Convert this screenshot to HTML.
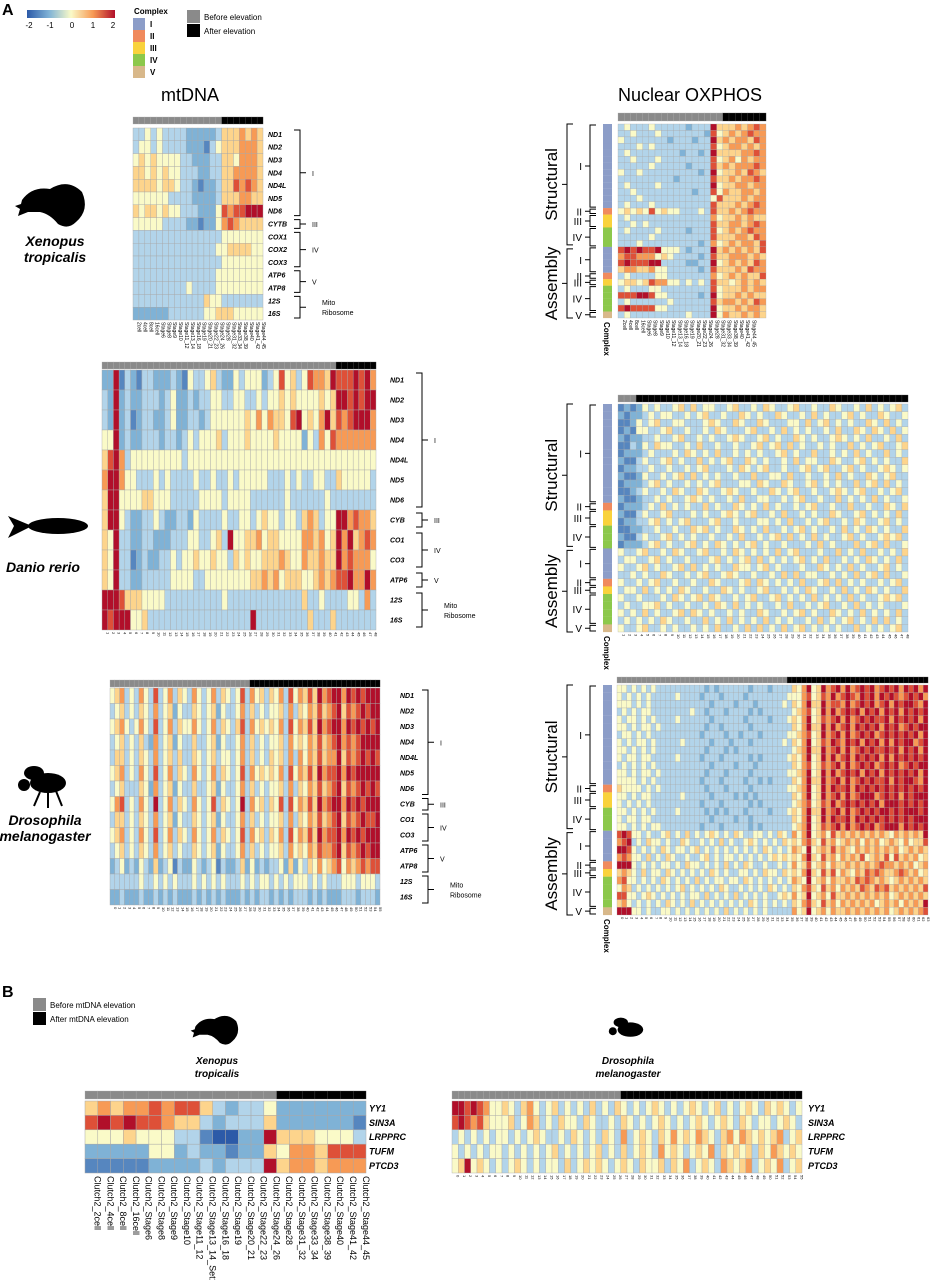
<!DOCTYPE html>
<html><head><meta charset="utf-8"><style>
html,body{margin:0;padding:0;background:#fff;}
svg{display:block;font-family:"Liberation Sans",Arial,sans-serif;}
</style></head><body>
<svg id="fig" width="931" height="1280" viewBox="0 0 931 1280" xmlns="http://www.w3.org/2000/svg">
<text x="2" y="15" font-size="16" font-weight="bold">A</text>
<text x="2" y="997" font-size="16" font-weight="bold">B</text>
<defs><linearGradient id="cb" x1="0" x2="1" y1="0" y2="0">
<stop offset="0" stop-color="#2c5aa8"/><stop offset="0.25" stop-color="#7fb2d6"/><stop offset="0.5" stop-color="#fafac8"/><stop offset="0.75" stop-color="#f79a55"/><stop offset="1" stop-color="#b10f2a"/></linearGradient></defs>
<rect x="27" y="10" width="88" height="8" fill="url(#cb)"/>
<g font-size="8" text-anchor="middle">
<text x="29" y="28">-2</text><text x="50" y="28">-1</text><text x="72" y="28">0</text><text x="93" y="28">1</text><text x="113" y="28">2</text></g>
<text x="134" y="14" font-size="8" font-weight="bold">Complex</text>
<g id="cxleg"></g>
<g>
<rect x="187" y="10" width="13" height="13" fill="#8a8a8a"/><rect x="187" y="24" width="13" height="13" fill="#000"/>
<text x="204" y="20" font-size="8">Before elevation</text><text x="204" y="34" font-size="8">After elevation</text></g>
<text x="190" y="101" font-size="18" text-anchor="middle">mtDNA</text>
<text x="690" y="101" font-size="18" text-anchor="middle">Nuclear OXPHOS</text>

<g fill="#000">
<path d="M22 200 Q32 186 50 189 Q68 178 82 192 Q90 210 76 222 Q68 230 58 224 Q50 214 40 212 L28 212 L18 216 L20 209 L15 206 L21 204 Z"/></g>
<text x="55" y="246" font-size="14" font-weight="bold" font-style="italic" text-anchor="middle"><tspan x="55">Xenopus</tspan><tspan x="55" dy="16">tropicalis</tspan></text>
<g fill="#000">
<ellipse cx="58" cy="526" rx="30" ry="8"/><path d="M32 526 L8 516 L14 526 L8 538 Z"/></g>
<text x="43" y="572" font-size="14" font-weight="bold" font-style="italic" text-anchor="middle">Danio rerio</text>
<g fill="#000">
<ellipse cx="48" cy="783" rx="18" ry="10"/><ellipse cx="34" cy="773" rx="10" ry="7"/><circle cx="24" cy="785" r="6"/>
<path d="M40 792 L34 806 M48 793 L48 808 M56 791 L62 806" stroke="#000" stroke-width="2"/></g>
<text x="45" y="825" font-size="14" font-weight="bold" font-style="italic" text-anchor="middle"><tspan x="45">Drosophila</tspan><tspan x="45" dy="16">melanogaster</tspan></text>

<g>
<rect x="33" y="998" width="13" height="13" fill="#8a8a8a"/><rect x="33" y="1012" width="13" height="13" fill="#000"/>
<text x="50" y="1008" font-size="8">Before mtDNA elevation</text><text x="50" y="1022" font-size="8">After mtDNA elevation</text></g>
<g fill="#000" transform="translate(194,1013) scale(0.68)">
<path d="M2 20 Q12 6 30 9 Q48 -2 62 12 Q70 30 56 42 Q48 50 38 44 Q30 34 20 32 L8 32 L-2 36 L0 29 L-5 26 L1 24 Z"/></g>
<text x="217" y="1064" font-size="10" font-weight="bold" font-style="italic" text-anchor="middle"><tspan x="217">Xenopus</tspan><tspan x="217" dy="13">tropicalis</tspan></text>
<g fill="#000" transform="translate(608,1012) scale(0.8)">
<ellipse cx="28" cy="22" rx="16" ry="9"/><ellipse cx="16" cy="13" rx="9" ry="6"/><circle cx="6" cy="24" r="5"/></g>
<text x="628" y="1064" font-size="10" font-weight="bold" font-style="italic" text-anchor="middle"><tspan x="628">Drosophila</tspan><tspan x="628" dy="13">melanogaster</tspan></text>

<g id="plots"></g>
</svg>
<script>
// ---------- data ----------
const cxNames = ['I','II','III','IV','V'];
const xMtGenes = ['ND1','ND2','ND3','ND4','ND4L','ND5','ND6','CYTB','COX1','COX2','COX3','ATP6','ATP8','12S','16S'];
const xMtStages = ['2cell','4cell','8cell','16cell','Stage6','Stage8','Stage9','Stage10','Stage11_12','Stage13_14','Stage16_18','Stage19','Stage20_21','Stage22_23','Stage24_26','Stage28','Stage31_32','Stage33_34','Stage38_39','Stage40','Stage41_42','Stage44_45'];
const xMtValues = [
"3343433332222235556565","3443433332221345556665","4545444433222335546665","5545454433322335566665",
"5555455433212235576765","4444443333222235556655","5455454433322247677888","4444433332212246765555",
"3333333333333334444444","3333333333333344555544","3333333333333334444444","3333333333333344444444",
"3333333334333344444444","3333333333335443333333","2222223333334455544444"];
const xMtGray = 15;
const dMtGenes = ['ND1','ND2','ND3','ND4','ND4L','ND5','ND6','CYB','CO1','CO3','ATP6','12S','16S'];
const dMtValues = [
"22813213 32223214 33453224 34442347 45347665 87778786","32823223 33234223 23344334 43343445 45444454 58878788",
"32823123 32234223 32344444 45464655 47845468 57678886","44823223 33233234 34445344 45444454 44424364 76666666",
"57863444 44444434 44444444 44444444 44444444 44444444","68864433 34343333 43343343 44444333 43433443 35444443",
"58844445 54443333 34444344 44333333 43333334 33333333","58843223 34322332 43333433 44345443 44356534 48867665",
"54833223 32223334 43345384 45564554 44466564 58685676","54833123 22334344 54454435 45445556 54465565 58676664",
"54833223 33334444 33444444 44556564 55544565 67786686","88875554 44433333 33333433 33333333 33353343 33344363",
"87888445 33333333 33333333 33833333 33335333 53333333"];
const dMtGray = 41;
const fMtGenes = ['ND1','ND2','ND3','ND4','ND4L','ND5','ND6','CYB','CO1','CO3','ATP6','ATP8','12S','16S'];
const fMtValues = [
"45634364 37346354 36434635 43473645 35463746 57586788 68787888","34534354 36345243 35434524 33463534 34453635 46575678 57678788",
"45643464 37346354 46434635 43573645 45463746 57586788 68787878","34534353 26345243 35334524 33463534 34453645 46575678 67678888",
"35534354 36345353 35434534 43463534 35453636 46575668 57678787","45634364 37346354 36434635 43473645 45463746 57586778 68788888",
"34533354 26345243 35334524 33463534 34453635 46575678 57678787","46734364 38346354 36434735 43483645 35473746 57586788 68787888",
"35534354 36345243 35434524 33463534 34453635 46575678 57678778","45634364 37346354 36434635 43473645 35463746 57586778 68787888",
"34534354 36345343 35434524 33463534 34453645 46576678 57678788","23423243 25234132 24323413 22352423 23342524 35464567 46567677",
"33333343 34343433 34343434 33343434 43434344 43434333 44434443","22322232 23232322 23232323 22232323 32323233 32323222 33323332"];
const fMtGray = 29;
const nucComplex = [0,0,0,0,0,0,0,0,0,0,0,0,0,1,2,2,3,3,3, 0,0,0,0,1,2,3,3,3,3,4];
const xNucValues = [
"34333433 33323338 55565676","33433343 33333327 45656766","43333333 23332338 56566576","33343433 33333337 45665656",
"34333333 33233238 55556676","33433343 33333337 45646566","33333433 33323337 56566676","43343333 33333238 45565765",
"33333333 32333337 55656676","34333343 33333338 45566566","33433333 33332337 46556656","33343333 33333334 75556566",
"34333433 33333337 55565676","45454745 44333437 55656766","34333333 33333336 45565655","33434333 33333337 55665676",
"34333343 33323337 45656766","33333433 33333337 55566576","33343333 33333236 45656657",
"78787784 44323338 56565657","67766645 43333237 55666565","78777883 33322338 45656576","56655644 33333237 55565766",
"34333344 33333336 45656557","45545766 44343437 55456565","34333443 33333337 45556566","77788744 33333238 45565655",
"34333333 43333337 56656576","78777744 33333338 45565665","34333333 33343338 46556565"];
const xNucGray = 17;
const dNucValues = [
"12124343 34535344 33453343 54334533 43354334 35343453","21223434 43343453 34335434 33543343 53433453 43354334",
"11243453 34433345 43354335 43334435 34534343 35435343","12144334 53343343 54333453 34353434 33435335 43543534",
"21223343 34533434 33454334 53433543 43345434 35334353","11324354 43343533 43343345 34535343 34343353 43453345",
"12223433 34354343 53343434 33453433 53343435 34335343","21134334 53433534 34533543 43343534 43354334 53434335",
"12233433 43343453 33435434 53343345 34533453 43345434","21124334 34535343 43343353 34435334 33435343 35434533",
"12223453 43343434 53334435 43354334 53434335 34535343","11234334 35433543 34543343 35434533 43345434 53343453",
"21123343 43345434 33435334 43343453 34335343 43534334","12223435 34343353 43354343 53433434 53343353 34335435",
"21134334 53334343 34543453 34353343 43354334 53434353","12233453 43453334 53343334 43435334 34533435 43345343",
"11223343 34335453 43354343 53343453 43343534 35434335","21134334 53434334 33435334 34535343 53433453 43345453",
"12223453 43345343 54343453 43343334 35343335 34535334",
"43345334 35433453 34354343 43534533 34335343 53343435","34433453 43343334 53434535 34343453 43533434 35434353",
"43345343 34535343 43354434 53433343 35434353 43345343","33434335 43343453 34543343 34353534 43343435 34535334",
"43343453 34334335 43334535 43434353 34535343 43343453","34435343 43543343 35434334 53343435 43343534 35434335",
"43343334 35434535 43343453 34534343 53434353 43345453","34334453 43343343 54353434 33435334 34533435 34343334",
"43435343 34535434 33434335 43343453 43354343 53434353","34343435 43343353 43534343 53434334 35343453 43535343",
"43345334 34334343 53343535 34353453 43434335 34343453"];
const dNucGray = 3;
const fNucValues = [
"44343434 33333333 33232333 33323332 33335468 45867868 67878678 78687868","43434343 33334333 32333233 33233333 33344467 45768678 76878687 87678786",
"44434343 33333333 33323333 23332333 33435468 55867768 67878678 68788768","34343443 33333334 33233323 33323233 33334567 45868678 78687868 78687878",
"43443434 33334333 33323333 33233332 33345468 45767868 67878778 68787868","44343443 43333333 33233233 33323333 33335468 55868678 68787868 78678788",
"34434343 33333333 32333323 32333233 33344567 45867868 67878678 78787868","43434434 33333433 33323332 33323333 33435468 45768768 78687868 68788678",
"44343434 33333333 33233323 23333333 33334568 55867868 67878778 78687868","43443443 33334333 32333233 33323233 33345468 45868678 68787868 68787878",
"34343434 33333333 33323333 23332333 33335467 45767868 67878678 78678788","44343443 43333333 33233323 33323333 33344568 45868678 78687868 78787868",
"44443434 33333333 32333233 33233232 33335468 55867868 67878778 68788768","54444343 43333333 33233323 33323333 33344568 45868778 68787878 78787878",
"44343443 33333433 33323333 23232333 33335468 45867868 67888678 78687888","43434343 33333333 32333233 33323233 33334567 45768678 78787868 88787878",
"44343434 33334333 33232323 33233332 33345468 55867868 67878788 78788878","43443443 33333333 33323333 23323333 33335468 45868778 68787878 78787888",
"44343434 43333333 32333233 33323233 33334568 45767868 67878678 88687878",
"78744343 34534353 43454343 54334434 35436468 45647565 65656565 46565658","67834354 43433543 34343534 33454343 43545467 54756456 56465645 65464557",
"88743434 35434434 53434343 43434354 34346548 45657565 46565656 56456565","67644353 43543343 34534344 34343434 54545468 54756465 65745657 47565645",
"88843434 34434354 43434353 43543343 34346457 45646556 56565676 65656456","56543534 43543434 34354343 34434354 43545468 54757465 46576765 56765645",
"67443434 35434343 53434434 43543434 34346548 45646556 57676565 45656565","46534343 43434534 34343543 34343435 43435467 54756465 65765767 56565657",
"77443454 34343434 43534343 53434343 34546458 45647556 56565656 45656565","56434343 43543435 34343434 34354343 43435467 54756465 65656456 56465658",
"88844343 34434343 43434353 43434343 33336458 45646556 56565656 45656567"];
const fNucGray = 35;
const bGenes = ['YY1','SIN3A','LRPPRC','TUFM','PTCD3'];
const bXStages = ['Clutch2_2cell','Clutch2_4cell','Clutch2_8cell','Clutch2_16cell','Clutch2_Stage6','Clutch2_Stage8','Clutch2_Stage9','Clutch2_Stage10','Clutch2_Stage11_12','Clutch2_Stage13_14_Set1','Clutch2_Stage16_18','Clutch2_Stage19','Clutch2_Stage20_21','Clutch2_Stage22_23','Clutch2_Stage24_26','Clutch2_Stage28','Clutch2_Stage31_32','Clutch2_Stage33_34','Clutch2_Stage38_39','Clutch2_Stage40','Clutch2_Stage41_42','Clutch2_Stage44_45'];
const bXValues = ["565667677532334 2222222","787877655323335 2222221","444544433100228 5554443","222224423221225 4665777","111112222323338 5665666"];
const bXGray = 15;
const bFValues = [
"88787644 54356434 53434353 43543434 54343454 34534345 43545434","78767544 45346534 35443543 34354343 45434345 43454354 34434543",
"34343434 43434543 34354343 54363454 35464546 54356465 45456345","43434344 34343434 53434345 34353454 36454345 46354545 35465454",
"45845434 34543434 43534545 43454354 45354634 54365456 34546345"];
const bFGray = 27;

// ---------- helpers ----------
const NS='http://www.w3.org/2000/svg';
const plots=document.getElementById('plots');
const stops=[[-2,[44,90,168]],[-1,[127,178,214]],[-0.5,[178,212,234]],[0,[250,250,200]],[0.5,[253,212,140]],[1,[247,154,85]],[1.5,[222,80,56]],[2,[177,15,42]]];
function color(v){v=Math.max(-2,Math.min(2,v));for(let i=0;i<stops.length-1;i++){const a=stops[i],b=stops[i+1];if(v<=b[0]){const t=(v-a[0])/(b[0]-a[0]);const c=a[1].map((x,k)=>Math.round(x+(b[1][k]-x)*t));return 'rgb('+c.join(',')+')';}}return 'rgb(177,15,42)';}
const cxColors=['#8c9dc8','#f08a5d','#f9d23c','#8cc84b','#d8b88a'];
function mk(tag,attrs,parent){const e=document.createElementNS(NS,tag);for(const k in attrs)e.setAttribute(k,attrs[k]);(parent||plots).appendChild(e);return e;}
function clean(rows){return rows.map(r=>r.replace(/\s/g,''));}
function xScale(x0,w,n){return i=>x0+i*w/n;}
function yScale(y0,h,n){return i=>y0+i*h/n;}
function heatmap(name,x0,y0,w,h,rowsRaw,gray,barY,barH,sw){
  const rows=clean(rowsRaw),nr=rows.length,nc=rows[0].length;
  const xs=xScale(x0,w,nc),ys=yScale(y0,h,nr);
  const g=mk('g',{});
  
  
  const bar=mk('g',{},g);
  
  
  for(let c=0;c<nc;c++){
    mk('rect',{x:xs(c),y:barY,width:w/nc+0.05,height:barH,fill:c<gray?'#8a8a8a':'#000',stroke:c<gray?'#b0b0b0':'#555','stroke-width':0.3},bar);
  }
  for(let r=0;r<nr;r++)for(let c=0;c<nc;c++){
    const v=(parseInt(rows[r][c])-4)/2;
    const cell=mk('rect',{x:xs(c),y:ys(r),width:w/nc,height:h/nr,fill:color(v),stroke:'#a8a8a8','stroke-width':sw},g);
    
    
  }
  return {xs,ys,nc,nr};
}
function rowLabels(labels,x,ys,fs,name){
  const g=mk('g',{'font-size':fs,'font-style':'italic','font-weight':'bold'});
  
  
  const hh=ys(1)-ys(0);
  labels.forEach((l,i)=>{const t=mk('text',{x:x,y:ys(i)+hh/2+fs*0.35},g);t.textContent=l;});
}
function colLabels(labels,xs,y,fs,name,bold){
  const g=mk('g',{'font-size':fs});
  if(bold)g.setAttribute('font-weight','bold');
  
  
  const cw=xs(1)-xs(0);
  labels.forEach((l,i)=>{const cx=xs(i)+cw/2+fs*0.35;const t=mk('text',{x:cx,y:y,transform:'rotate(90 '+cx+' '+y+')'},g);t.textContent=l;});
}
function bracketR(x,y1,y2,label,name,fs){
  const g=mk('g',{stroke:'#000','stroke-width':1,fill:'none'});
  
  
  const m=(y1+y2)/2;
  mk('path',{d:`M${x-6} ${y1} H${x} V${y2} H${x-6} M${x} ${m} H${x+6}`},g);
  const lines=label.split('|');
  lines.forEach((l,i)=>{const t=mk('text',{x:x+(lines.length>1?22:12),y:m+3+(i-(lines.length-1)/2)*10,'font-size':fs,stroke:'none',fill:'#000'},g);t.textContent=l;});
}
function bracketL(x,y1,y2,label,name,fs,rot){
  const g=mk('g',{stroke:'#000','stroke-width':1,fill:'none'});
  
  
  const m=(y1+y2)/2;
  mk('path',{d:`M${x+6} ${y1} H${x} V${y2} H${x+6} M${x} ${m} H${x-5}`},g);
  let t;
  if(rot){t=mk('text',{x:x-10,y:m,'font-size':fs,stroke:'none',fill:'#000','text-anchor':'middle',transform:`rotate(-90 ${x-10} ${m})`},g);}
  else{t=mk('text',{x:x-8,y:m+4,'font-size':fs,stroke:'none',fill:'#000','text-anchor':'end'},g);}
  t.textContent=label;
}
function complexBar(x,w,ys,nr,name){
  const g=mk('g',{});
  
  
  for(let r=0;r<nr;r++){mk('rect',{x:x,y:ys(r),width:w,height:ys(1)-ys(0)+0.1,fill:cxColors[nucComplex[r]]},g);}
  const c=mk('text',{x:x+1,y:ys(nr)+4,'font-size':8,'font-weight':'bold',transform:`rotate(90 ${x+1} ${ys(nr)+4})`},g);
  c.textContent='Complex';
}
function nucBrackets(pre,ys){
  const groups=[];let s=0;
  for(let r=1;r<=nucComplex.length;r++){
    const newSec=(r===19);
    if(r===nucComplex.length||nucComplex[r]!==nucComplex[s]||newSec){groups.push([s,r-1,nucComplex[s]]);s=r;}
  }
  groups.forEach((gr,i)=>bracketL(590,ys(gr[0])+1,ys(gr[1]+1)-1,cxNames[gr[2]],pre+'-complex-bracket-'+i,10,false));
  bracketL(567,ys(0),ys(19)-2,'Structural',pre+'-structural-brace',17,true);
  bracketL(567,ys(19)+2,ys(30),'Assembly',pre+'-assembly-brace',17,true);
}
(function(){const g=document.getElementById('cxleg');cxNames.forEach((n,i)=>{mk('rect',{x:133,y:18+i*12,width:12,height:12,fill:cxColors[i]},g);const t=mk('text',{x:150,y:27+i*12,'font-size':8,'font-weight':'bold'},g);t.textContent=n;});})();

// ---------- Xenopus mtDNA ----------
let H=heatmap('xenopus-mtdna-heatmap',133,128,130,192,xMtValues,xMtGray,117,7,0.4);
rowLabels(xMtGenes,268,H.ys,7,'xenopus-mtdna-genes');
colLabels(xMtStages,H.xs,322,5,'xenopus-mtdna-stages',false);
bracketR(300,H.ys(0)+2,H.ys(7)-2,'I','x-br-I',7);bracketR(300,H.ys(7)+2,H.ys(8)-2,'III','x-br-III',7);
bracketR(300,H.ys(8)+2,H.ys(11)-2,'IV','x-br-IV',7);bracketR(300,H.ys(11)+2,H.ys(13)-2,'V','x-br-V',7);
bracketR(300,H.ys(13)+2,H.ys(15)-2,'Mito|Ribosome','x-br-mito',7);
// ---------- Danio mtDNA ----------
H=heatmap('danio-mtdna-heatmap',102,370,274,260,dMtValues,dMtGray,362,7,0.4);
rowLabels(dMtGenes,390,H.ys,7,'danio-mtdna-genes');
const dMtStages=[];for(let i=0;i<H.nc;i++)dMtStages.push(String(i+1));
colLabels(dMtStages,H.xs,632,4,'danio-mtdna-stages',false);
bracketR(422,H.ys(0)+3,H.ys(7)-3,'I','d-br-I',7);bracketR(422,H.ys(7)+3,H.ys(8)-3,'III','d-br-III',7);
bracketR(422,H.ys(8)+3,H.ys(10)-3,'IV','d-br-IV',7);bracketR(422,H.ys(10)+3,H.ys(11)-3,'V','d-br-V',7);
bracketR(422,H.ys(11)+3,H.ys(13)-3,'Mito|Ribosome','d-br-mito',7);
// ---------- Drosophila mtDNA ----------
H=heatmap('drosophila-mtdna-heatmap',110,688,270,217,fMtValues,fMtGray,680,7,0.4);
rowLabels(fMtGenes,400,H.ys,7,'drosophila-mtdna-genes');
const fMtStages=[];for(let i=0;i<H.nc;i++)fMtStages.push(String(i));
colLabels(fMtStages,H.xs,907,4,'drosophila-mtdna-stages',false);
bracketR(428,H.ys(0)+2,H.ys(7)-2,'I','f-br-I',7);bracketR(428,H.ys(7)+2,H.ys(8)-2,'III','f-br-III',7);
bracketR(428,H.ys(8)+2,H.ys(10)-2,'IV','f-br-IV',7);bracketR(428,H.ys(10)+2,H.ys(12)-2,'V','f-br-V',7);
bracketR(428,H.ys(12)+2,H.ys(14)-2,'Mito|Ribosome','f-br-mito',7);
// ---------- Nuclear ----------
H=heatmap('xenopus-nuclear-heatmap',618,124,148,194,xNucValues,xNucGray,113,8,0.3);
complexBar(603,9,H.ys,H.nr,'xenopus-complex-bar');nucBrackets('xn',H.ys);
colLabels(xMtStages.slice(0,H.nc),H.xs,320,5,'xenopus-nuclear-stages',false);
H=heatmap('danio-nuclear-heatmap',618,404,290,228,dNucValues,dNucGray,395,7,0.3);
complexBar(603,9,H.ys,H.nr,'danio-complex-bar');nucBrackets('dn',H.ys);
const dNucStages=[];for(let i=0;i<H.nc;i++)dNucStages.push(String(i+1));
colLabels(dNucStages,H.xs,634,4,'danio-nuclear-stages',false);
H=heatmap('drosophila-nuclear-heatmap',617,685,311,230,fNucValues,fNucGray,677,6,0.3);
complexBar(603,9,H.ys,H.nr,'drosophila-complex-bar');nucBrackets('fn',H.ys);
const fNucStages=[];for(let i=0;i<H.nc;i++)fNucStages.push(String(i));
colLabels(fNucStages,H.xs,917,4,'drosophila-nuclear-stages',false);
// ---------- Panel B ----------
H=heatmap('b-xenopus-heatmap',85,1101,281,72,bXValues,bXGray,1091,8,0.5);
rowLabels(bGenes,369,H.ys,9,'b-xenopus-genes');
colLabels(bXStages,H.xs,1176,9,'b-xenopus-stages',false);
H=heatmap('b-drosophila-heatmap',452,1101,350,72,bFValues,bFGray,1091,8,0.4);
rowLabels(bGenes,808,H.ys,9,'b-drosophila-genes');
const bFStages=[];for(let i=0;i<H.nc;i++)bFStages.push(String(i));
colLabels(bFStages,H.xs,1175,4,'b-drosophila-stages',false);
</script>
</body></html>
